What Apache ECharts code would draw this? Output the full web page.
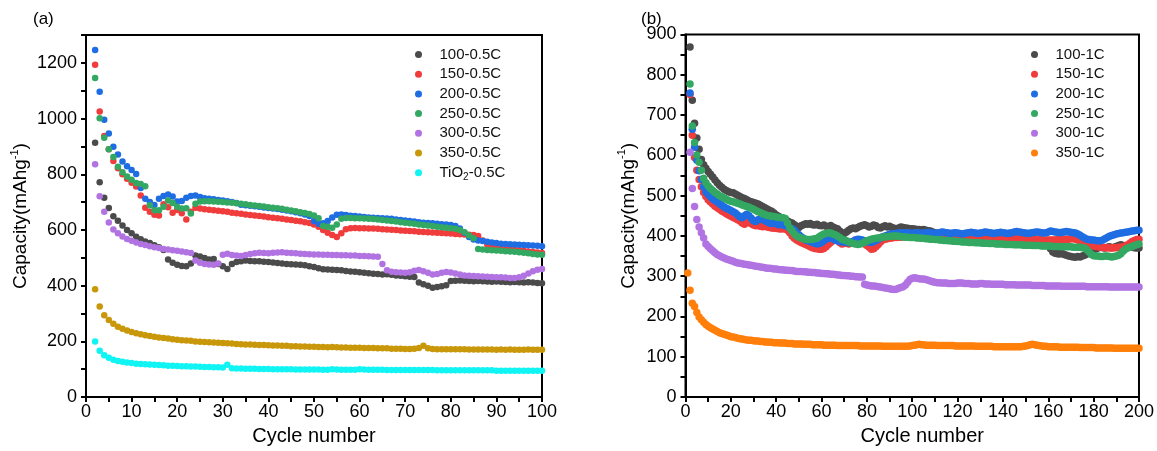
<!DOCTYPE html>
<html><head><meta charset="utf-8">
<script src="https://cdn.jsdelivr.net/npm/echarts@6/dist/echarts.min.js"></script>
<style>html,body{margin:0;padding:0;background:#fff}#c{width:1157px;height:451px}</style>
</head><body><div id="c"></div>
<script>
// ---------- Panel (a): 0.5C, cycles 2..100 ----------
const namesA = ['100-0.5C','150-0.5C','200-0.5C','250-0.5C','300-0.5C','350-0.5C','TiO2-0.5C'];
const startA = 2;
const a100 = [913,771,716,679,649,633,616,600,588,576,
567,559,553,545,538,528,494,482,475,471,
470,480,508,505,499,494,496,478,470,460,
478,485,488,490,489,488,488,486,485,483,
481,480,478,477,476,475,473,470,467,463,
459,458,457,456,455,453,451,450,448,446,
445,443,442,440,441,439,437,436,434,432,
431,411,405,400,393,395,398,402,417,418,
419,418,417,416,417,416,415,414,415,414,
413,412,413,412,411,412,411,410,409];
const a150 = [1193,1025,937,890,848,822,800,784,770,756,
724,680,665,655,652,692,682,662,672,660,
638,665,680,677,674,673,671,669,667,665,
662,660,658,656,654,652,650,648,646,644,
642,640,638,636,633,631,628,625,620,612,
600,590,582,575,588,603,606,607,606,606,
605,605,604,603,602,601,600,598,597,596,
595,594,593,592,591,590,589,588,587,586,
585,584,583,582,578,562,548,540,536,534,
532,530,529,527,525,523,521,519,517];
const a200 = [1246,1096,996,946,899,871,846,829,815,801,
751,712,700,690,712,722,727,720,702,704,
716,722,724,718,714,712,710,708,706,703,
700,697,691,689,687,685,683,681,679,677,
675,673,670,667,664,660,656,650,632,622,
624,632,645,655,656,654,651,650,648,647,
645,644,643,642,641,640,638,636,634,632,
630,628,626,625,624,622,621,620,618,614,
605,590,575,566,562,560,558,555,553,551,
550,549,548,547,546,545,544,543,542];
const a250 = [1146,1001,931,890,862,827,807,792,780,769,
765,757,689,671,671,683,706,697,683,677,
678,659,694,702,703,703,702,701,700,699,
698,696,694,692,690,688,686,684,682,680,
678,676,673,670,667,664,661,657,652,642,
614,612,608,620,640,643,643,642,642,641,
640,639,638,636,634,632,630,628,626,624,
622,620,618,616,614,612,610,608,606,604,
600,592,580,570,532,530,528,527,526,525,
524,523,522,520,518,516,514,512,511];
const a300 = [836,721,665,627,602,588,577,568,561,555,
550,546,542,538,535,532,530,527,525,523,
520,517,490,482,478,476,475,480,511,515,
510,508,507,510,514,516,518,517,516,518,
519,520,518,517,516,515,514,513,512,512,
511,511,510,510,509,509,508,508,507,507,
506,505,504,478,455,450,448,447,446,448,
454,456,452,446,440,442,446,449,447,444,
440,437,436,435,434,433,432,431,430,430,
429,428,428,430,436,444,452,457,460];
const a350 = [387,325,294,277,263,253,245,239,234,229,
226,222,219,217,214,212,210,208,206,204,
203,202,200,199,198,197,196,195,194,193,
192,191,190,189,189,188,187,187,186,185,
185,184,184,183,183,182,182,181,181,180,
180,179,180,179,178,178,177,177,177,176,
176,176,175,175,175,174,174,174,173,173,
174,176,184,175,173,172,172,172,172,172,
172,172,171,171,171,171,171,171,170,171,
170,171,170,170,170,171,170,170,170];
const aTiO2 = [200,166,150,141,134,130,127,124,122,120,
119,118,117,116,115,114,113,113,112,111,
111,110,110,109,108,108,107,107,106,116,
104,103,103,102,102,102,101,101,101,100,
100,100,100,100,99,99,99,99,99,99,
98,98,100,99,98,98,98,98,100,99,
98,98,98,98,97,97,97,97,97,97,
97,97,97,97,97,96,96,96,96,96,
96,96,96,96,96,96,96,96,95,95,
95,95,95,95,95,95,95,95,95];

// ---------- Panel (b): 1C, cycles 2..200 (350-1C from cycle 1) ----------
const namesB = ['100-1C','150-1C','200-1C','250-1C','300-1C','350-1C'];
const startB = 2;
const startB350 = 1;
const b100 = [869,737,680,643,615,590,577,568,560,553,
546,539,532,526,521,516,513,510,508,507,
504,501,498,495,493,490,487,485,483,481,
479,476,473,470,467,464,461,457,452,449,
446,443,440,437,434,432,428,424,421,425,
428,430,429,431,428,427,429,426,425,427,
424,423,426,422,420,418,412,408,406,410,
414,418,420,418,421,424,426,428,425,422,
424,427,425,421,420,423,425,422,424,421,
419,418,420,422,421,420,419,418,418,417,
416,416,415,416,414,413,412,410,408,406,
405,404,403,402,402,401,400,400,399,399,
398,398,398,397,397,397,396,396,396,395,
395,395,395,394,394,394,394,393,393,393,
393,392,392,392,392,391,391,391,391,390,
390,390,390,389,389,388,386,383,378,368,
360,357,356,355,357,354,352,350,349,348,
347,349,348,350,352,355,358,362,365,368,
370,372,371,370,372,373,371,372,374,376,
378,376,375,374,373,372,371,370,370];
const b150 = [751,650,595,563,540,522,508,498,490,484,
479,474,470,466,462,459,455,452,449,446,
443,440,437,432,429,433,435,430,427,425,
426,424,423,424,422,421,420,419,419,418,
417,418,417,414,408,400,394,390,387,384,
381,379,376,373,371,369,368,367,367,369,
373,379,384,388,392,390,384,380,381,383,
380,382,385,390,388,386,384,380,376,372,
367,368,373,379,385,390,392,393,394,395,
396,396,397,397,398,398,399,399,399,400,
400,401,401,402,402,402,403,403,403,403,
404,404,403,403,403,402,402,402,401,401,
401,400,400,400,399,399,399,398,398,398,
397,397,397,396,396,396,395,395,395,394,
394,394,394,393,393,393,393,392,392,392,
392,391,391,391,391,390,390,390,390,390,
390,390,391,391,391,392,392,392,393,393,
392,390,388,385,382,379,377,376,375,374,
373,372,372,371,371,370,370,371,371,372,
372,373,375,378,382,386,389,391,392];
const b200 = [755,665,620,588,562,540,522,510,503,497,
492,488,484,480,476,472,469,466,463,460,
457,452,447,445,450,454,450,444,438,436,
440,442,441,438,435,432,431,432,430,428,
429,427,425,424,420,418,414,408,403,398,
394,390,388,386,384,382,380,381,384,388,
392,394,395,393,390,388,386,385,386,384,
383,385,387,390,392,391,390,388,386,385,
384,386,389,392,395,398,400,402,404,405,
406,406,407,408,408,407,408,407,406,407,
408,407,406,407,408,409,408,407,406,407,
408,410,409,408,407,406,407,408,407,406,
405,406,407,408,409,408,407,406,407,408,
410,409,408,407,406,407,408,409,408,407,
406,407,408,410,411,410,409,408,407,406,
407,408,409,410,409,408,407,408,410,412,
411,410,409,408,409,410,411,410,409,408,
407,405,402,398,395,392,391,390,390,389,
388,388,390,393,396,399,401,403,405,406,
407,408,409,410,411,412,413,414,414];
const b250 = [777,673,632,601,583,563,543,532,524,518,
513,508,504,500,497,494,491,488,486,485,
483,481,479,477,475,473,471,469,466,463,
460,458,455,453,451,450,449,448,447,446,
446,445,443,432,420,412,405,400,397,395,
393,392,391,391,392,393,394,398,402,405,
406,408,407,405,403,400,396,392,390,388,
385,383,381,380,379,380,382,385,388,390,
392,393,394,395,396,397,398,398,399,399,
400,400,399,398,398,397,397,396,396,396,
395,395,394,394,393,393,392,392,391,391,
390,390,389,389,388,388,387,387,386,386,
385,385,385,384,384,384,383,383,383,382,
382,382,381,381,381,380,380,380,380,379,
379,379,379,378,378,378,378,377,377,377,
377,376,376,376,376,375,375,375,375,375,
374,374,374,374,373,373,373,373,373,372,
372,372,372,371,370,366,360,354,351,350,
350,349,349,350,350,349,348,349,350,352,
356,362,367,370,372,374,376,378,380];
const b300 = [608,518,473,441,422,408,395,380,374,368,
363,358,354,351,348,345,343,341,339,337,
335,333,332,331,330,329,328,327,326,325,
324,323,322,321,320,320,319,318,318,317,
316,316,315,315,314,314,313,312,312,312,
311,311,310,310,309,309,308,308,307,307,
306,306,305,305,304,303,303,302,302,301,
301,300,300,299,299,298,298,280,278,277,
276,276,275,274,273,272,271,270,269,268,
267,268,270,272,274,278,285,292,295,296,
295,294,293,293,292,290,288,286,285,284,
284,283,283,283,282,282,282,282,283,283,
283,282,282,282,281,281,281,281,282,282,
281,281,281,280,280,280,280,280,280,279,
279,279,279,279,278,278,278,278,278,278,
278,277,277,277,277,277,277,276,276,276,
276,276,276,276,275,275,275,275,275,275,
275,275,275,275,275,274,274,274,274,274,
274,274,274,274,274,273,273,273,273,273,
273,273,273,273,273,273,273,273,273];
const b350 = [308,265,233,225,210,199,192,186,180,176,
172,169,166,163,160,158,156,154,152,150,
149,148,146,145,144,143,142,141,141,140,
139,139,138,138,137,137,136,136,135,135,
135,134,134,134,133,133,133,132,132,132,
132,131,131,131,131,130,130,130,130,130,
129,129,129,129,129,129,128,128,128,128,
128,128,128,128,128,128,127,127,127,127,
127,127,127,127,127,127,126,126,126,126,
126,126,126,126,126,126,126,126,127,128,
129,130,131,130,130,129,129,129,129,129,
128,128,128,128,128,128,128,128,127,127,
127,127,127,127,127,127,127,126,126,126,
126,126,126,126,126,125,125,125,125,125,
125,125,125,125,125,125,125,125,126,127,
128,130,131,130,129,128,127,126,126,125,
125,125,125,125,124,124,124,124,124,124,
124,124,124,123,123,123,123,123,123,123,
122,122,122,122,122,122,122,122,121,121,
121,121,121,121,121,121,121,121,121,121];

const colorsA = ['#4b4b4b','#f03c3c','#1f6de2','#33a862','#b173e2','#c9980a','#10f4f4'];
const colorsB = ['#4b4b4b','#f03c3c','#1f6de2','#33a862','#b173e2','#ff7f0a'];

const FF = '"Liberation Sans", Arial, sans-serif';
const toPts = (arr, start) => arr.map((v, i) => [start + i, v]);

function xAxis(gi, max, interval, every, padLeft) {
  return {
    type: 'value', gridIndex: gi, min: 0, max: max, interval: interval,
    axisLine: { show: true, onZero: false, lineStyle: { color: '#000', width: 2 } },
    axisTick: { show: true, inside: false, length: 5, lineStyle: { color: '#000', width: 2 } },
    splitLine: { show: false },
    axisLabel: { fontSize: 18, color: '#000', margin: 6, fontFamily: FF,
      formatter: v => (v % every === 0 ? String(v) : '') },
    name: 'Cycle number', nameLocation: 'middle', nameGap: 26,
    nameTextStyle: { fontSize: 20, color: '#000', fontFamily: FF, padding: [0, 0, 0, padLeft] }
  };
}
function yAxis(gi, max, interval, every, gap) {
  return {
    type: 'value', gridIndex: gi, min: 0, max: max, interval: interval,
    axisLine: { show: true, onZero: false, lineStyle: { color: '#000', width: 2 } },
    axisTick: { show: true, inside: false, length: 5, lineStyle: { color: '#000', width: 2 } },
    splitLine: { show: false },
    axisLabel: { fontSize: 18, color: '#000', margin: 9, fontFamily: FF,
      formatter: v => (v % every === 0 ? String(v) : '') },
    name: 'Capacity(mAhg{sup|-1})', nameLocation: 'middle', nameGap: gap,
    nameTextStyle: { fontSize: 19, color: '#000', fontFamily: FF, lineHeight: 24,
      rich: { sup: { fontSize: 11, color: '#000', fontFamily: FF, verticalAlign: 'top', lineHeight: 24 } } }
  };
}

const seriesA = [a100, a150, a200, a250, a300, a350, aTiO2].map((arr, k) => ({
  name: namesA[k], type: 'scatter', xAxisIndex: 0, yAxisIndex: 0,
  symbol: 'circle', symbolSize: 6.5, data: toPts(arr, startA),
  itemStyle: { color: colorsA[k], opacity: 1 }
}));
const seriesB = [b100, b150, b200, b250, b300, b350].map((arr, k) => ({
  name: namesB[k], type: 'scatter', xAxisIndex: 1, yAxisIndex: 1,
  symbol: 'circle', symbolSize: 7.5, data: toPts(arr, k === 5 ? startB350 : startB),
  itemStyle: { color: colorsB[k], opacity: 1 }
}));

const legendBase = {
  orient: 'vertical', padding: 0, itemWidth: 32, itemHeight: 7, itemGap: 4.7,
  icon: 'circle', selectedMode: false,
  textStyle: { fontSize: 15, color: '#111', fontFamily: FF,
    rich: { sub: { fontSize: 10, color: '#111', fontFamily: FF, verticalAlign: 'bottom', lineHeight: 19 } } }
};

const chart = echarts.init(document.getElementById('c'), null, { renderer: 'canvas' });
chart.setOption({
  animation: false,
  backgroundColor: '#fff',
  textStyle: { fontFamily: FF },
  grid: [
    { left: 86, top: 35, width: 456, height: 367.5, show: true, borderColor: '#000', borderWidth: 2 },
    { left: 685.5, top: 34.5, width: 456.5, height: 367.2, show: true, borderColor: '#000', borderWidth: 2 }
  ],
  xAxis: [xAxis(0, 100, 5, 10, 0), xAxis(1, 200, 10, 20, 20)],
  yAxis: [yAxis(0, 1300, 100, 200, 52), yAxis(1, 900, 50, 100, 45)],
  legend: [
    Object.assign({}, legendBase, { left: 415, top: 47, data: namesA,
      formatter: n => (n === 'TiO2-0.5C' ? 'TiO{sub|2}-0.5C' : n) }),
    Object.assign({}, legendBase, { left: 1031, top: 47, data: namesB })
  ],
  graphic: [
    { type: 'text', left: 33, top: 11, style: { text: '(a)', fontSize: 17, fill: '#000', fontFamily: FF } },
    { type: 'text', left: 641, top: 11, style: { text: '(b)', fontSize: 17, fill: '#000', fontFamily: FF } }
  ],
  series: seriesA.concat(seriesB)
});
</script></body></html>
